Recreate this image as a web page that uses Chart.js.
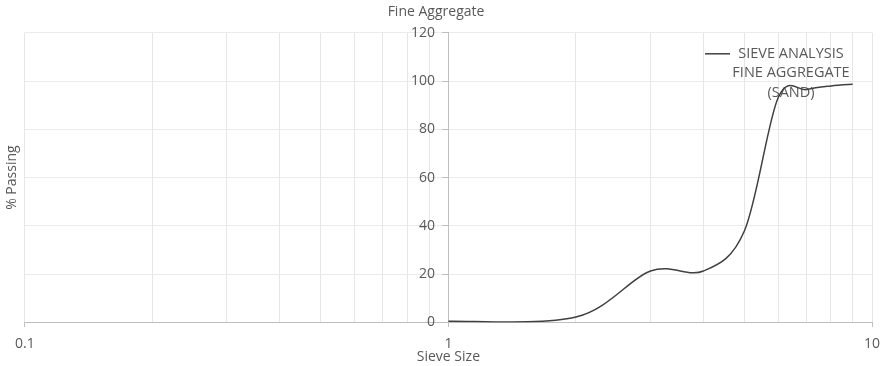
<!DOCTYPE html>
<html>
<head>
<meta charset="utf-8">
<script src="https://cdn.jsdelivr.net/npm/chart.js@4/dist/chart.umd.min.js"></script>
<style>
html,body{margin:0;padding:0;background:#fff;}
#wrap{width:882px;height:366px;}
</style>
</head>
<body>
<div id="wrap"><canvas id="c" width="882" height="366"></canvas></div>
<script>
const sieveSizes = [1, 2, 3, 4, 5, 6, 7, 8, 9];
const percentPassing = [0.5, 2.2, 21.3, 21.3, 38, 93, 96.5, 98, 98.7];
const seriesLabel = ['SIEVE ANALYSIS', 'FINE AGGREGATE', '(SAND)'];
const xMajorTicks = [0.1, 1, 10];
const yTicks = [0, 20, 40, 60, 80, 100, 120];

const FONT = "'Open Sans', Lato, sans-serif";
const TXT = '#595959';
const LINE = '#404040';

// Excel-like smoothing: control points at 1/6 of the neighbour chord
const excelSmooth = {
  id: 'excelSmooth',
  beforeDatasetsDraw(chart) {
    chart.data.datasets.forEach((ds, di) => {
      const meta = chart.getDatasetMeta(di);
      const line = meta.dataset;
      if (line && line.updateControlPoints) line.updateControlPoints(chart.chartArea, 'x');
      const pts = meta.data;
      const n = pts.length;
      for (let i = 0; i < n; i++) {
        const p = pts[i];
        const prev = pts[Math.max(i - 1, 0)];
        const next = pts[Math.min(i + 1, n - 1)];
        const dx = (next.x - prev.x) / 6;
        const dy = (next.y - prev.y) / 6;
        p.cp1x = p.x - dx; p.cp1y = p.y - dy;
        p.cp2x = p.x + dx; p.cp2y = p.y + dy;
      }
    });
  }
};

// Legend drawn inside the plot area (multi-line label, like the original)
const insideLegend = {
  id: 'insideLegend',
  beforeDatasetsDraw(chart) {
    const ctx = chart.ctx;
    const ds = chart.data.datasets[0];
    const area = chart.chartArea;
    const cx = area.right - 81;
    const y0 = area.top + 21;
    const lh = 19.5;
    ctx.save();
    ctx.font = "14.5px " + FONT;
    ctx.fillStyle = TXT;
    ctx.textAlign = 'center';
    ctx.textBaseline = 'middle';
    seriesLabel.forEach((t, i) => ctx.fillText(t, cx, y0 + i * lh));
    ctx.strokeStyle = ds.borderColor;
    ctx.lineWidth = 1.5;
    ctx.beginPath();
    ctx.moveTo(area.right - 167, y0);
    ctx.lineTo(area.right - 142, y0);
    ctx.stroke();
    ctx.restore();
  }
};

const yTickBuilder = (axis) => { axis.ticks = yTicks.map(v => ({value: v})); };

new Chart(document.getElementById('c'), {
  type: 'line',
  data: {
    datasets: [{
      label: seriesLabel.join(' '),
      data: sieveSizes.map((s, i) => ({x: s, y: percentPassing[i]})),
      borderColor: LINE,
      backgroundColor: LINE,
      borderWidth: 1.5,
      pointRadius: 0,
      tension: 0.4,
      fill: false
    }]
  },
  plugins: [excelSmooth, insideLegend],
  options: {
    responsive: false,
    animation: false,
    layout: {padding: {left: 0, right: 10, top: 0, bottom: 0}},
    plugins: {
      title: {
        display: true,
        text: 'Fine Aggregate',
        color: TXT,
        font: {family: FONT, size: 14, weight: 'normal'},
        padding: {top: 4, bottom: 12}
      },
      legend: {display: false},
      tooltip: {enabled: false}
    },
    scales: {
      x: {
        type: 'logarithmic',
        min: 0.1,
        max: 10,
        title: {display: true, text: 'Sieve Size', color: TXT, font: {family: FONT, size: 14}, padding: {top: -5, bottom: 1}},
        border: {display: true, color: '#bfbfbf', width: 1},
        grid: {
          color: '#e6e6e6',
          tickLength: 12,
          tickBorderDash: [4, 40],
          tickColor: (ctx) => (ctx.tick && xMajorTicks.includes(ctx.tick.value)) ? '#bfbfbf' : 'rgba(0,0,0,0)'
        },
        afterBuildTicks: (axis) => {
          const t = [];
          for (let d = 0.1; d < 10; d *= 10) {
            for (let k = 1; k <= 9; k++) t.push({value: +(k * d).toPrecision(3)});
          }
          t.push({value: 10});
          axis.ticks = t;
        },
        ticks: {
          color: TXT,
          font: {family: FONT, size: 14},
          autoSkip: false,
          maxRotation: 0,
          padding: 1,
          callback: (v) => xMajorTicks.includes(+v) ? String(v) : ''
        }
      },
      y: {
        type: 'linear',
        position: {x: 1},
        min: 0,
        max: 120,
        afterBuildTicks: yTickBuilder,
        border: {display: true, color: '#bfbfbf'},
        grid: {color: '#ebebeb', tickLength: 6, tickColor: '#bfbfbf'},
        ticks: {display: false}
      },
      yLabels: {
        type: 'linear',
        position: {x: 0.93},
        min: 0,
        max: 120,
        afterBuildTicks: yTickBuilder,
        border: {display: false},
        grid: {display: false},
        ticks: {color: TXT, font: {family: FONT, size: 14}, padding: 0}
      },
      yTitle: {
        type: 'linear',
        position: 'left',
        min: 0,
        max: 120,
        display: true,
        border: {display: false},
        grid: {display: false, drawTicks: false},
        ticks: {display: false},
        title: {display: true, text: '% Passing', color: TXT, font: {family: FONT, size: 14}, padding: {top: 4, bottom: 4}}
      }
    }
  }
});
</script>
</body>
</html>
